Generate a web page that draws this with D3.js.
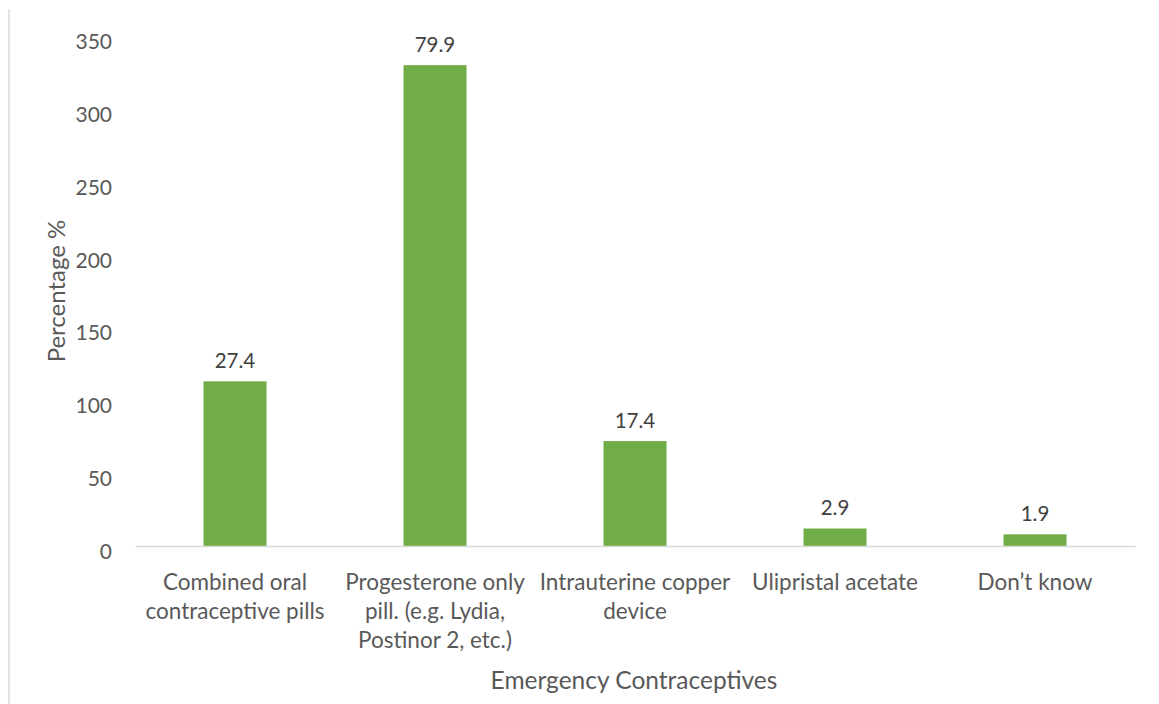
<!DOCTYPE html>
<html>
<head>
<meta charset="utf-8">
<script src="https://cdn.jsdelivr.net/npm/d3@7"></script>
<style>
  body { margin: 0; background: #fff; }
  svg text { font-family: Lato, "Open Sans", sans-serif; }
</style>
</head>
<body>
<div class="chart"></div>
<script>
// 資料
const categories = [
    "Combined oral contraceptive pills",
    "Progesterone only pill. (e.g. Lydia, Postinor 2, etc.)",
    "Intrauterine copper device",
    "Ulipristal acetate",
    "Don\u2019t know"
];
// 類別標籤(換行)
const categoryLines = [
    ["Combined oral", "contraceptive pills"],
    ["Progesterone only", "pill. (e.g. Lydia,", "Postinor 2, etc.)"],
    ["Intrauterine copper", "device"],
    ["Ulipristal acetate"],
    ["Don\u2019t know"]
];
const counts = [113, 330, 72, 12, 8];          // bar 高度
const percentLabels = ["27.4", "79.9", "17.4", "2.9", "1.9"]; // 資料標籤
const yTicks = [0, 50, 100, 150, 200, 250, 300, 350];

// 畫布尺寸
const svg_width = 1159;
const svg_height = 704;
const margin = { top: 36, right: 24, bottom: 158, left: 135 };

const svg = d3.select('.chart').append('svg')
    .attr('width', svg_width).attr('height', svg_height);

// 左側邊框
svg.append('line')
    .attr('x1', 9).attr('x2', 9).attr('y1', 9).attr('y2', svg_height)
    .attr('stroke', '#d9d9d9').attr('stroke-width', 1.5);

const X_scale = d3.scaleBand().domain(categories)
    .range([margin.left, svg_width - margin.right])
    .paddingInner(0.685).paddingOuter(0.3425);

const Y_scale = d3.scaleLinear([0, 350], [svg_height - margin.bottom, margin.top]);

// y 軸刻度文字
const yAxis = d3.axisLeft(Y_scale).tickValues(yTicks).tickSize(0).tickPadding(23);
const yAxisDraw = svg.append('g').attr('transform', `translate(${margin.left},0)`).call(yAxis);
yAxisDraw.select('.domain').remove();
yAxisDraw.selectAll('text')
    .attr('font-size', 21).attr('fill', '#595959').attr('dy', '12.5px');

// bars
svg.append('g').selectAll('rect').data(counts).join('rect')
    .attr('x', (d, i) => X_scale(categories[i]))
    .attr('y', d => Y_scale(d))
    .attr('width', X_scale.bandwidth())
    .attr('height', d => Y_scale(0) - Y_scale(d))
    .attr('fill', '#70ad47');

// x 軸線
const xAxis = d3.axisBottom(X_scale).tickSize(0).tickFormat('');
const xAxisDraw = svg.append('g').attr('transform', `translate(0,${Y_scale(0)})`).call(xAxis);
xAxisDraw.select('.domain').attr('stroke', '#d9d9d9').attr('stroke-width', 1.5);

// 類別標籤
const catGroup = svg.append('g');
categories.forEach((c, i) => {
    const cx = X_scale(c) + X_scale.bandwidth() / 2;
    const t = catGroup.append('text')
        .attr('x', cx)
        .attr('y', Y_scale(0) + 44)
        .attr('text-anchor', 'middle')
        .attr('font-size', 22.5).attr('fill', '#595959');
    categoryLines[i].forEach((line, j) => {
        t.append('tspan').attr('x', cx)
            .attr('dy', j === 0 ? 0 : 29).text(line);
    });
});

// 資料標籤
svg.append('g').selectAll('text').data(counts).join('text')
    .attr('x', (d, i) => X_scale(categories[i]) + X_scale.bandwidth() / 2)
    .attr('y', d => Y_scale(d) - 13.5)
    .attr('text-anchor', 'middle')
    .attr('font-size', 20.5).attr('fill', '#404040')
    .text((d, i) => percentLabels[i]);

// 軸標題
svg.append('text')
    .attr('x', 634).attr('y', 689)
    .attr('text-anchor', 'middle').attr('font-size', 24.5).attr('fill', '#595959')
    .text('Emergency Contraceptives');

svg.append('text')
    .attr('transform', `translate(65,${(Y_scale(0) + Y_scale(350)) / 2}) rotate(-90)`)
    .attr('text-anchor', 'middle').attr('font-size', 24).attr('fill', '#595959')
    .text('Percentage %');
</script>
</body>
</html>
